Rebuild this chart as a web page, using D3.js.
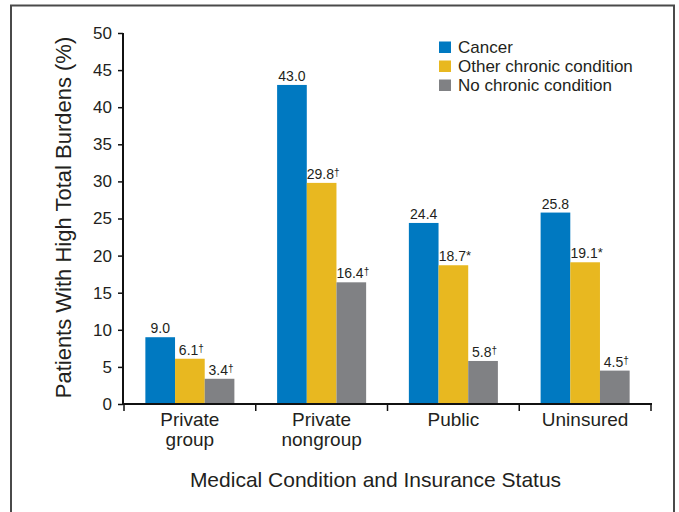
<!DOCTYPE html>
<html><head><meta charset="utf-8">
<script src="https://cdn.jsdelivr.net/npm/d3@7"></script>
<style>body{margin:0;background:#fff}svg{display:block}</style>
</head><body>
<svg id="c" width="679" height="512"></svg>
<script>
const categories = [["Private","group"],["Private","nongroup"],["Public"],["Uninsured"]];
const series = ["Cancer","Other chronic condition","No chronic condition"];
const cancer = [9.0, 43.0, 24.4, 25.8];
const other = [6.1, 29.8, 18.7, 19.1];
const none = [3.4, 16.4, 5.8, 4.5];
const otherMarks = ["\u2020","\u2020","*","*"];
const noneMarks = ["\u2020","\u2020","\u2020","\u2020"];
const cancerMarks = ["","","",""];
const yTicks = [0,5,10,15,20,25,30,35,40,45,50];
const colors = ["#0079c1","#e8b820","#808184"];

const values = [cancer, other, none];
const marks = [cancerMarks, otherMarks, noneMarks];
const svg = d3.select("#c");
const ink = "#231f20";
const reg = "'Liberation Sans',Arial,sans-serif";

svg.append("rect").attr("x",11).attr("y",5.5).attr("width",663).attr("height",520)
  .attr("fill","none").attr("stroke","#4a4a4a").attr("stroke-width",2);

const catIdx = categories.map((c,i)=>i);
const x = d3.scaleBand().domain(catIdx).range([124,651]).paddingInner(0).paddingOuter(0);
const xs = d3.scaleBand().domain(series).range([0,x.bandwidth()]).paddingInner(0).paddingOuter(0.72);
const y = d3.scaleLinear().domain([0,50]).range([404,33]);

// bars
series.forEach((s,si)=>{
  const g = svg.append("g");
  g.selectAll("rect").data(catIdx).join("rect")
    .attr("x",i=>x(i)+xs(s))
    .attr("y",i=>y(values[si][i]))
    .attr("width",xs.bandwidth())
    .attr("height",i=>y(0)-y(values[si][i]))
    .attr("fill",colors[si]);
  const t = g.selectAll("text").data(catIdx).join("text")
    .attr("x",i=>x(i)+xs(s)+xs.bandwidth()/2 + (marks[si][i]?1.5:0))
    .attr("y",i=>y(values[si][i])-4)
    .attr("text-anchor","middle")
    .attr("font-family",reg).attr("font-size",14).attr("fill",ink);
  t.append("tspan").text(i=>values[si][i].toFixed(1));
  t.append("tspan").attr("font-size",i=>marks[si][i]==="*"?13:10).attr("dy",i=>marks[si][i]==="*"?-1:-3)
    .text(i=>marks[si][i]);
});

// y axis
const ya = svg.append("g").attr("transform","translate(123,0)")
  .call(d3.axisLeft(y).tickValues(yTicks).tickSize(5).tickPadding(6));
ya.select(".domain").attr("stroke","#111").attr("stroke-width",2).attr("d","M0,405V33");
ya.selectAll(".tick line").attr("stroke","#111").attr("stroke-width",1.5);
ya.selectAll(".tick text").attr("font-family",reg).attr("font-size",17).attr("fill",ink);

// x axis
const xa = svg.append("g").attr("transform","translate(0,404)")
  .call(d3.axisBottom(x).tickValues([]).tickSize(0));
xa.select(".domain").attr("stroke","#111").attr("stroke-width",2).attr("d","M122,0H652");
const edges = catIdx.map(i=>x(i)).concat([x(catIdx[catIdx.length-1])+x.bandwidth()]);
xa.selectAll("line.sep").data(edges).join("line").attr("class","sep")
  .attr("x1",d=>d).attr("x2",d=>d).attr("y1",0).attr("y2",7)
  .attr("stroke","#111").attr("stroke-width",1.5);
const cl = svg.append("g").selectAll("text").data(catIdx).join("text")
  .attr("x",i=>x(i)+x.bandwidth()/2).attr("y",426)
  .attr("text-anchor","middle").attr("font-family",reg).attr("font-size",19).attr("fill",ink);
cl.selectAll("tspan").data(i=>categories[i]).join("tspan")
  .attr("x",function(){return d3.select(this.parentNode).attr("x");})
  .attr("dy",(d,j)=>j?20:0).text(d=>d);

// axis titles
svg.append("text").attr("x",375.5).attr("y",487).attr("text-anchor","middle")
  .attr("font-family",reg).attr("font-size",21).attr("fill",ink)
  .text("Medical Condition and Insurance Status");
svg.append("text").attr("transform","translate(71,217.5) rotate(-90)").attr("text-anchor","middle")
  .attr("font-family",reg).attr("font-size",22).attr("fill",ink)
  .text("Patients With High Total Burdens (%)");

// legend
const lg = svg.append("g").attr("transform","translate(439,41.5)");
series.forEach((s,i)=>{
  lg.append("rect").attr("x",0).attr("y",i*19).attr("width",12).attr("height",11.5).attr("fill",colors[i]);
  lg.append("text").attr("x",19).attr("y",i*19+11.5).attr("font-family",reg).attr("font-size",17)
    .attr("fill",ink).text(s);
});
</script>
</body></html>
